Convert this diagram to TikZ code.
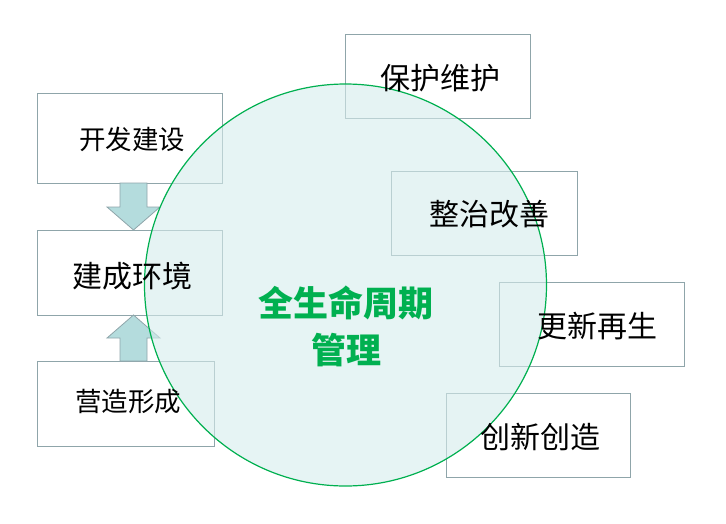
\documentclass[tikz,border=0pt]{standalone}
\usepackage{fontspec}
\setmainfont{Noto Sans CJK SC}
\usetikzlibrary{calc}
\definecolor{boxline}{HTML}{8FA5AA}
\definecolor{circfill}{HTML}{D5ECEC}
\definecolor{circline}{HTML}{00B050}
\definecolor{arrfill}{HTML}{B4DCDD}
\begin{document}
\begin{tikzpicture}[x=1pt,y=-1pt,
  box/.style={draw=boxline,line width=1pt,fill=white},
  lbl/.style={font=\fontsize{30}{32}\selectfont,text=black},
  sml/.style={font=\fontsize{26.5}{28}\selectfont,text=black},
  blk/.style={draw=boxline,fill=arrfill,line width=0.8pt}]
\useasboundingbox (0,0) rectangle (726,523);
% boxes
\draw[box] (37,93) rectangle (222,183);
\draw[box] (37,230) rectangle (222,315);
\draw[box] (37,361) rectangle (214,446);
\draw[box] (345,34) rectangle (530,118);
\draw[box] (391,171) rectangle (577,255);
\draw[box] (499,282) rectangle (684,366);
\draw[box] (446,393) rectangle (630,477);
% block arrows
\draw[blk] (120,183) -- (147,183) -- (147,207) -- (160,207) -- (133.5,230) -- (107,207) -- (120,207) -- cycle;
\draw[blk] (120,361) -- (147,361) -- (147,338) -- (160,338) -- (133.5,315) -- (107,338) -- (120,338) -- cycle;
% circle
\node[circle,draw=circline,line width=1.2pt,fill=circfill,fill opacity=0.6,draw opacity=1,minimum size=402pt,inner sep=0] (c) at (345.5,285) {};
% labels
\node[sml] (a) at (132,139) {开发建设};
\node[lbl] (b) at (132,276) {建成环境};
\node[sml] (d) at (128,402) {营造形成};
\node[lbl] (e) at (440,78) {保护维护};
\node[lbl] (f) at (489,214) {整治改善};
\node[lbl] (g) at (597,326) {更新再生};
\node[lbl] (h) at (540,437) {创新创造};
\node[font=\fontsize{35}{47}\selectfont\bfseries,text=circline,align=center] (t) at (346,326) {全生命周期\\管理};
\end{tikzpicture}
\end{document}
